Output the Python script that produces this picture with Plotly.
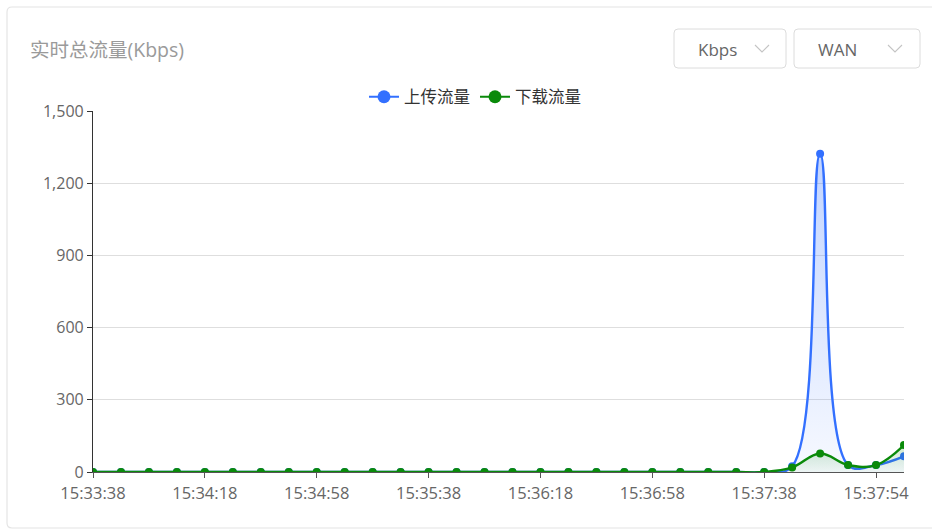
import plotly.graph_objects as go

# ---- data ----
times = [
    "15:33:38", "15:33:48", "15:33:58", "15:34:08", "15:34:18", "15:34:28", "15:34:38", "15:34:48",
    "15:34:58", "15:35:08", "15:35:18", "15:35:28", "15:35:38", "15:35:48", "15:35:58", "15:36:08",
    "15:36:18", "15:36:28", "15:36:38", "15:36:48", "15:36:58", "15:37:08", "15:37:18", "15:37:28",
    "15:37:38", "15:37:42", "15:37:46", "15:37:50", "15:37:54", "15:37:58",
]
upload = [0] * 24 + [0, 24, 1322, 29, 29, 65]
download = [0] * 24 + [0, 19, 77, 29, 29, 112]
tick_labels = times[::4]
y_ticks = [0, 300, 600, 900, 1200, 1500]

series_names = ["上传流量", "下载流量"]
title_text = "实时总流量(Kbps)"
unit_text = "Kbps"
iface_text = "WAN"

BLUE = "#3370ff"
GREEN = "#0a8a0a"
FONT = "Open Sans, Noto Sans CJK SC, sans-serif"

W, H = 932, 530
L, R, T, B = 93, 28, 111, 58
PW, PH = W - L - R, H - T - B


def px(x):
    return (x - L) / PW


def py(y):
    return (H - B - y) / PH


def rrect(x0, y0, x1, y1, r):
    return (
        f"M {px(x0 + r)},{py(y0)} L {px(x1 - r)},{py(y0)} Q {px(x1)},{py(y0)} {px(x1)},{py(y0 + r)} "
        f"L {px(x1)},{py(y1 - r)} Q {px(x1)},{py(y1)} {px(x1 - r)},{py(y1)} "
        f"L {px(x0 + r)},{py(y1)} Q {px(x0)},{py(y1)} {px(x0)},{py(y1 - r)} "
        f"L {px(x0)},{py(y0 + r)} Q {px(x0)},{py(y0)} {px(x0 + r)},{py(y0)} Z"
    )


fig = go.Figure()

fig.add_trace(go.Scatter(
    x=times, y=upload, mode="lines+markers", name=series_names[0], showlegend=False,
    line=dict(color=BLUE, width=2.4, shape="spline", smoothing=1.1),
    marker=dict(color=BLUE, size=8),
    fill="tozeroy",
    fillgradient=dict(type="vertical", colorscale=[[0, "rgba(51,112,255,0.04)"], [1, "rgba(51,112,255,0.3)"]]),
))
fig.add_trace(go.Scatter(
    x=times, y=download, mode="lines+markers", name=series_names[1], showlegend=False,
    line=dict(color=GREEN, width=2.4, shape="spline", smoothing=1.1),
    marker=dict(color=GREEN, size=8),
    fill="tozeroy",
    fillgradient=dict(type="vertical", colorscale=[[0, "rgba(10,138,10,0.04)"], [1, "rgba(10,138,10,0.2)"]]),
))
# legend entries
for nm, c in zip(series_names, [BLUE, GREEN]):
    fig.add_trace(go.Scatter(
        x=[None], y=[None], mode="lines+markers", name=nm,
        line=dict(color=c, width=2), marker=dict(color=c, size=13),
    ))

shapes = [
    # card border
    dict(type="path", xref="paper", yref="paper",
         path=rrect(7, 7, 960, 528, 5), line=dict(color="#e4e4e4", width=1.2), layer="below"),
    dict(type="path", xref="paper", yref="paper",
         path=rrect(674, 29, 786, 68, 4), line=dict(color="#dcdcdc", width=1)),
    dict(type="path", xref="paper", yref="paper",
         path=rrect(794, 29, 920, 68, 4), line=dict(color="#dcdcdc", width=1)),
]
for cx in (762, 895):
    shapes.append(dict(type="path", xref="paper", yref="paper",
                       path=f"M {px(cx - 7)},{py(45)} L {px(cx)},{py(52)} L {px(cx + 7)},{py(45)}",
                       line=dict(color="#c4c4c4", width=1.1)))

annotations = [
    dict(text=title_text, x=px(28), y=py(49), xref="paper", yref="paper", xanchor="left",
         yanchor="middle", showarrow=False, font=dict(size=19.5, color="#9a9a9a", family=FONT)),
    dict(text=unit_text, x=px(717), y=py(49), xref="paper", yref="paper", xanchor="center",
         yanchor="middle", showarrow=False, font=dict(size=17, color="#666666", family=FONT)),
    dict(text=iface_text, x=px(837), y=py(49), xref="paper", yref="paper", xanchor="center",
         yanchor="middle", showarrow=False, font=dict(size=17, color="#666666", family=FONT)),
]

fig.update_layout(
    width=W, height=H,
    margin=dict(l=L, r=R, t=T, b=B, pad=0),
    paper_bgcolor="white", plot_bgcolor="white",
    font=dict(family=FONT, color="#666666", size=16),
    shapes=shapes, annotations=annotations,
    showlegend=True,
    legend=dict(orientation="h", x=px(475), xanchor="center", y=py(97), yanchor="middle",
                font=dict(size=16.5, color="#333333", family=FONT), bgcolor="rgba(0,0,0,0)",
                itemwidth=30, tracegroupgap=0),
    xaxis=dict(
        type="category", range=[0, len(times) - 1], showgrid=False,
        showline=True, linecolor="#555555", linewidth=1.2,
        tickmode="array", tickvals=tick_labels, ticktext=tick_labels,
        ticks="outside", ticklen=5, tickcolor="#555555", ticklabelstandoff=1,
        tickfont=dict(size=16.5, color="#666666"), zeroline=False, fixedrange=True,
    ),
    yaxis=dict(
        range=[0, 1500], tickmode="array", tickvals=y_ticks, tickformat=",d",
        showgrid=True, gridcolor="#dedede", gridwidth=1,
        showline=True, linecolor="#333333", linewidth=1.2,
        ticks="outside", ticklen=5, tickcolor="#333333",
        tickfont=dict(size=16, color="#666666"), zeroline=False, fixedrange=True,
    ),
)

fig.write_html(
    "out.html",
    config={"displayModeBar": False},
    post_script="document.body.style.margin='0';document.body.style.padding='0';document.body.style.overflow='hidden';",
)
